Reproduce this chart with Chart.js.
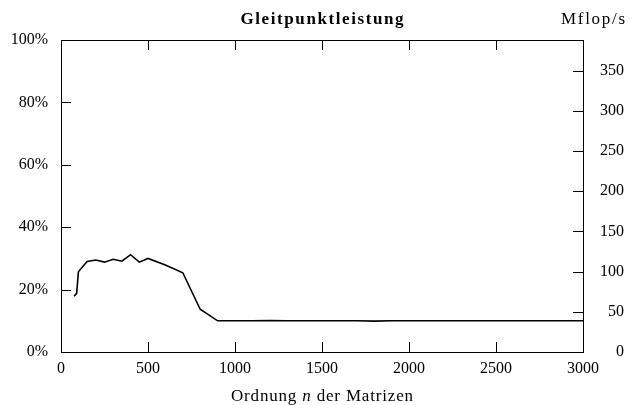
<!DOCTYPE html>
<html>
<head>
<meta charset="utf-8">
<script src="https://cdn.jsdelivr.net/npm/chart.js@4/dist/chart.umd.min.js"></script>
<style>
  html, body { margin: 0; padding: 0; background: #fff; }
  #wrap { width: 632px; height: 405px; }
</style>
</head>
<body>
<div id="wrap"><canvas id="perfChart" width="632" height="405"></canvas></div>
<script>
// Matrix order n and achieved share of peak performance (%)
const orders = [75, 90, 100, 150, 200, 250, 300, 350, 400, 450, 500, 600, 700, 800, 900,
    1000, 1100, 1200, 1300, 1400, 1500, 1600, 1700, 1800, 1900, 2000,
    2200, 2400, 2600, 2800, 3000];
const percentPeak = [17.9, 18.8, 25.7, 29.0, 29.5, 28.8, 29.7, 29.1, 31.2, 28.8, 30.0, 27.9, 25.4, 13.7, 10.0,
    10.0, 10.0, 10.1, 10.0, 10.0, 10.0, 10.0, 10.0, 9.9, 10.0, 10.0,
    10.0, 10.0, 10.0, 10.0, 10.0];

const xTicks = [0, 500, 1000, 1500, 2000, 2500, 3000];
const pctTicks = [0, 20, 40, 60, 80, 100];
const mflopTicks = [0, 50, 100, 150, 200, 250, 300, 350];
const peakMflops = 388;

const serif = '"Liberation Serif", "DejaVu Serif", serif';

// draws a run of text pieces, spread out to a given width (the TeX fonts are wider)
function drawSpread(ctx, parts, cx, y, width, align) {
    let chars = 0, natural = 0;
    parts.forEach(p => {
        ctx.font = p.f;
        p.w = ctx.measureText(p.t).width;
        natural += p.w;
        chars += p.t.length;
    });
    const gap = Math.max((width - natural) / Math.max(chars - 1, 1), 0);
    let x = align === 'right' ? cx - width : cx - width / 2;
    ctx.textAlign = 'left';
    parts.forEach(p => {
        ctx.font = p.f;
        for (const ch of p.t) {
            ctx.fillText(ch, x, y);
            x += ctx.measureText(ch).width + gap;
        }
    });
}

// Frame, inward tick marks and texts
const framePlugin = {
    id: 'frameTicks',
    afterDraw(chart) {
        const ctx = chart.ctx;
        const a = chart.chartArea;
        const sx = chart.scales.x, sy = chart.scales.y, sy2 = chart.scales.y2;
        const len = 10;
        ctx.save();
        ctx.strokeStyle = '#000';
        ctx.lineWidth = 1;
        ctx.strokeRect(Math.round(a.left) + 0.5, Math.round(a.top) + 0.5,
            Math.round(a.right - a.left), Math.round(a.bottom - a.top));
        ctx.beginPath();
        sx.ticks.forEach(t => {
            const px = Math.round(sx.getPixelForValue(t.value)) + 0.5;
            ctx.moveTo(px, a.bottom); ctx.lineTo(px, a.bottom - len);
            ctx.moveTo(px, a.top); ctx.lineTo(px, a.top + len);
        });
        sy.ticks.forEach(t => {
            const py = Math.round(sy.getPixelForValue(t.value)) + 0.5;
            ctx.moveTo(a.left, py); ctx.lineTo(a.left + len, py);
        });
        sy2.ticks.forEach(t => {
            const py = Math.round(sy2.getPixelForValue(t.value)) + 0.5;
            ctx.moveTo(a.right, py); ctx.lineTo(a.right - len, py);
        });
        ctx.stroke();

        ctx.fillStyle = '#000';
        ctx.textBaseline = 'middle';
        const mid = (a.left + a.right) / 2;
        drawSpread(ctx, [{ t: 'Gleitpunktleistung', f: 'bold 17px ' + serif }], mid, 20, 163);
        drawSpread(ctx, [{ t: 'Mflop/s', f: '17px ' + serif }], 625, 20, 64, 'right');
        drawSpread(ctx, [
            { t: 'Ordnung ', f: '17px ' + serif },
            { t: 'n', f: 'italic 17px ' + serif },
            { t: ' der Matrizen', f: '17px ' + serif }
        ], mid, 397, 182);
        ctx.restore();
    }
};

const tickFont = { family: serif, size: 16 };

new Chart(document.getElementById('perfChart'), {
    type: 'line',
    data: {
        datasets: [{
            data: orders.map((n, i) => ({ x: n, y: percentPeak[i] })),
            borderColor: '#000',
            borderWidth: 1.6,
            pointRadius: 0,
            tension: 0,
            fill: false,
            yAxisID: 'y'
        }]
    },
    options: {
        responsive: false,
        animation: false,
        devicePixelRatio: 1,
        layout: { padding: { top: 40, left: 0, right: 8, bottom: 0 } },
        plugins: {
            legend: { display: false },
            tooltip: { enabled: false }
        },
        scales: {
            x: {
                type: 'linear',
                min: 0,
                max: 3000,
                afterBuildTicks: s => { s.ticks = xTicks.map(v => ({ value: v })); },
                afterFit: s => { s.height = 53; },
                grid: { display: false, drawTicks: false },
                border: { display: false },
                ticks: { color: '#000', font: tickFont, padding: 7, maxRotation: 0, callback: v => String(v) }
            },
            y: {
                position: 'left',
                min: 0,
                max: 100,
                afterBuildTicks: s => { s.ticks = pctTicks.map(v => ({ value: v })); },
                afterFit: s => { s.width = 61; },
                grid: { display: false, drawTicks: false },
                border: { display: false },
                ticks: { color: '#000', font: tickFont, padding: 13, callback: v => v + '%' }
            },
            y2: {
                position: 'right',
                min: 0,
                max: peakMflops,
                afterBuildTicks: s => { s.ticks = mflopTicks.map(v => ({ value: v })); },
                afterFit: s => { s.width = 41; },
                grid: { display: false, drawTicks: false },
                border: { display: false },
                ticks: { color: '#000', font: tickFont, padding: 8, crossAlign: 'far', callback: v => String(v) }
            }
        }
    },
    plugins: [framePlugin]
});
</script>
</body>
</html>
